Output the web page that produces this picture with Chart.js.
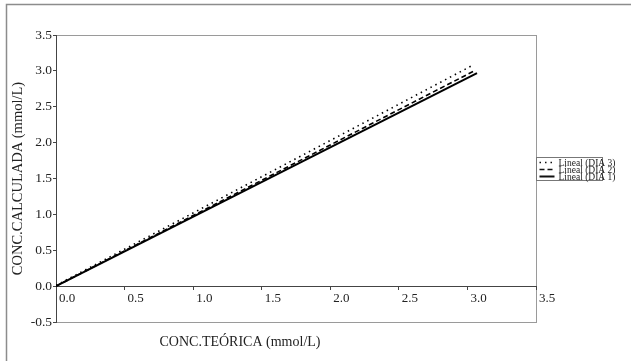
<!DOCTYPE html>
<html>
<head>
<meta charset="utf-8">
<script src="https://cdn.jsdelivr.net/npm/chart.js@4/dist/chart.umd.min.js"></script>
<style>
  html, body { margin: 0; padding: 0; background: #fff; }
  #wrap { width: 631px; height: 361px; position: relative; }
</style>
</head>
<body>
<div id="wrap"><canvas id="chart"></canvas></div>
<script>
/* ===================================
   DATA (trend line end points)
   =================================== */
const seriesLabels = ['Lineal (DIA 1)', 'Lineal (DIA 2)', 'Lineal (DIA 3)'];
const dia1X = [0, 3.07];
const dia1Y = [0, 2.97];
const dia2X = [0, 3.06];
const dia2Y = [0, 3.01];
const dia3X = [0, 3.04];
const dia3Y = [0.01, 3.08];
const xTicks = [0, 0.5, 1, 1.5, 2, 2.5, 3, 3.5];
const yTicks = [-0.5, 0, 0.5, 1, 1.5, 2, 2.5, 3, 3.5];
const xTitle = 'CONC.TEÓRICA (mmol/L)';
const yTitle = 'CONC.CALCULADA (mmol/L)';

const FONT = '"Liberation Serif", "Times New Roman", serif';
const INK = '#222';
const FRAME = '#9a9a9a';

function toPoints(xs, ys) {
  return xs.map(function (x, i) { return { x: x, y: ys[i] }; });
}

const dashes = [[], [5, 3], [1.5, 4]];

/* ===================================
   PLUGIN: frame, x title, legend box
   =================================== */
const excelLook = {
  id: 'excelLook',
  beforeDraw(chart) {
    const c = chart.ctx;
    const a = chart.chartArea;
    c.save();
    // outer chart border (only top/left visible in picture)
    c.strokeStyle = '#8c8c8c';
    c.lineWidth = 1.5;
    c.strokeRect(6.5, 4.5, 700, 420);
    // plot area border
    c.strokeStyle = FRAME;
    c.lineWidth = 1;
    c.strokeRect(a.left + 0.5, a.top + 0.5, a.right - a.left, a.bottom - a.top);
    c.restore();
  },
  afterDraw(chart) {
    const c = chart.ctx;
    c.save();
    // x axis title
    c.fillStyle = INK;
    c.font = '14px ' + FONT;
    c.textAlign = 'center';
    c.textBaseline = 'middle';
    c.fillText(xTitle, 240, 342);

    // legend box
    const bx = 536.5, by = 157.5, bw = 66, bh = 23;
    c.strokeStyle = '#777';
    c.lineWidth = 1;
    c.strokeRect(bx, by, bw, bh);
    c.font = '9.5px ' + FONT;
    c.textAlign = 'left';
    const order = [2, 1, 0];
    order.forEach(function (di, row) {
      const ds = chart.data.datasets[di];
      const y = by + 5 + row * 7;
      c.strokeStyle = '#111';
      c.lineWidth = ds.borderWidth;
      c.setLineDash(ds.borderDash);
      c.beginPath();
      c.moveTo(bx + 3, y);
      c.lineTo(bx + 18, y);
      c.stroke();
      c.setLineDash([]);
      c.fillStyle = INK;
      c.fillText(ds.label, bx + 22, y + 0.5);
    });
    c.restore();
  },
};

const datasets = [
  toPoints(dia1X, dia1Y),
  toPoints(dia2X, dia2Y),
  toPoints(dia3X, dia3Y),
].map(function (pts, i) {
  return {
    label: seriesLabels[i],
    data: pts,
    showLine: true,
    borderColor: '#000',
    borderWidth: i === 0 ? 2 : 1.6,
    borderDash: dashes[i],
    pointRadius: 0,
    tension: 0,
    fill: false,
  };
});

new Chart(document.getElementById('chart'), {
  type: 'scatter',
  data: { datasets: datasets },
  options: {
    responsive: true,
    maintainAspectRatio: false,
    animation: false,
    layout: { padding: { left: 0, top: 35, right: 95, bottom: 39 } },
    plugins: {
      legend: { display: false },
      tooltip: { enabled: false },
    },
    scales: {
      x: {
        type: 'linear',
        min: 0,
        max: 3.5,
        position: { y: 0 },
        afterBuildTicks(scale) { scale.ticks = xTicks.map(function (v) { return { value: v }; }); },
        ticks: {
          align: 'start',
          labelOffset: 3,
          padding: 2,
          color: INK,
          font: { family: FONT, size: 13 },
          callback: function (v) { return Number(v).toFixed(1); },
        },
        grid: { drawOnChartArea: false, tickLength: 3, color: '#444' },
        border: { color: '#444', width: 1 },
      },
      y: {
        type: 'linear',
        min: -0.5,
        max: 3.5,
        afterFit(scale) { scale.width = 56; },
        afterBuildTicks(scale) { scale.ticks = yTicks.map(function (v) { return { value: v }; }); },
        ticks: {
          padding: 1,
          color: INK,
          font: { family: FONT, size: 13.5 },
          callback: function (v) { return Number(v).toFixed(1); },
        },
        grid: { drawOnChartArea: false, tickLength: 3, color: '#444' },
        border: { color: '#444', width: 1 },
        title: {
          display: true,
          text: yTitle,
          color: INK,
          font: { family: FONT, size: 14.5 },
          padding: { top: 9, bottom: 0 },
        },
      },
    },
  },
  plugins: [excelLook],
});
</script>
</body>
</html>
